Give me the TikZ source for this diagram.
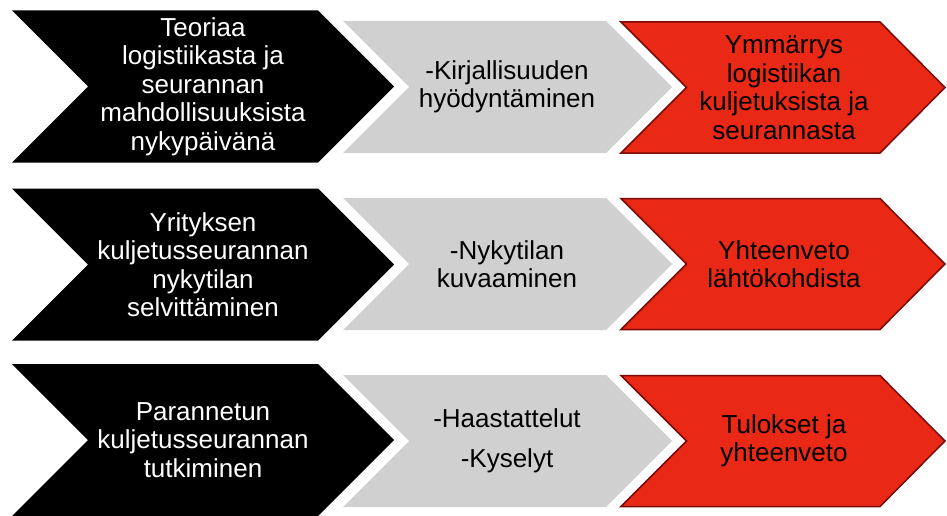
\documentclass[tikz,border=0pt]{standalone}
\usepackage{fontspec}
\setmainfont{Liberation Sans}
\definecolor{chevred}{RGB}{234,40,22}
\definecolor{chevredline}{RGB}{120,10,8}
\definecolor{chevgrey}{RGB}{208,208,208}
\tikzset{
  blackchev/.style={fill=black,draw=none},
  greychev/.style={fill=chevgrey,draw=none},
  redchev/.style={fill=chevred,draw=chevredline,line width=1.5pt,line join=miter},
  txt/.style={align=center,font=\fontsize{26}{28.5}\selectfont,inner sep=0pt},
  whitetxt/.style={txt,text=white},
  darktxt/.style={txt,text=black}
}
\begin{document}
\begin{tikzpicture}[x=1pt,y=-1pt]
\useasboundingbox (0,0) rectangle (947,516);
% row 1
\path[blackchev] (12,10.5) -- (318,10.5) -- (394,86.5) -- (318,162.5) -- (12,162.5) -- (88,86.5) -- cycle;
\path[greychev] (343,21) -- (606,21) -- (672,87) -- (606,153) -- (343,153) -- (409,87) -- cycle;
\path[redchev] (621,22) -- (880,22) -- (945,87.5) -- (880,153) -- (621,153) -- (686.5,87.5) -- cycle;
% row 2
\path[blackchev] (12,188.5) -- (318,188.5) -- (394,264.5) -- (318,340.5) -- (12,340.5) -- (88,264.5) -- cycle;
\path[greychev] (343,198) -- (606,198) -- (672,264) -- (606,330) -- (343,330) -- (409,264) -- cycle;
\path[redchev] (621,198.5) -- (880,198.5) -- (945,264) -- (880,329.5) -- (621,329.5) -- (686.5,264) -- cycle;
% row 3
\path[blackchev] (12,364) -- (318,364) -- (394,440) -- (318,516) -- (12,516) -- (88,440) -- cycle;
\path[greychev] (343,375) -- (606,375) -- (672,441) -- (606,507) -- (343,507) -- (409,441) -- cycle;
\path[redchev] (621,375.5) -- (880,375.5) -- (945,441) -- (880,506.5) -- (621,506.5) -- (686.5,441) -- cycle;

\node[whitetxt] (b1) at (203,86.5) {Teoriaa\\logistiikasta ja\\seurannan\\mahdollisuuksista\\nykypäivänä};
\node[darktxt] (g1) at (507,87) {-Kirjallisuuden\\hyödyntäminen};
\node[darktxt] (r1) at (784,87.5) {Ymmärrys\\logistiikan\\kuljetuksista ja\\seurannasta};

\node[whitetxt] (b2) at (203,264.5) {Yrityksen\\kuljetusseurannan\\nykytilan\\selvittäminen};
\node[darktxt] (g2) at (507,264) {-Nykytilan\\kuvaaminen};
\node[darktxt] (r2) at (784,264) {Yhteenveto\\lähtökohdista};

\node[whitetxt] (b3) at (203,440) {Parannetun\\kuljetusseurannan\\tutkiminen};
\node[darktxt] (g3) at (507,441) {-Haastattelut\\[11pt]-Kyselyt};
\node[darktxt] (r3) at (784,441) {Tulokset ja\\yhteenveto};
\end{tikzpicture}
\end{document}
